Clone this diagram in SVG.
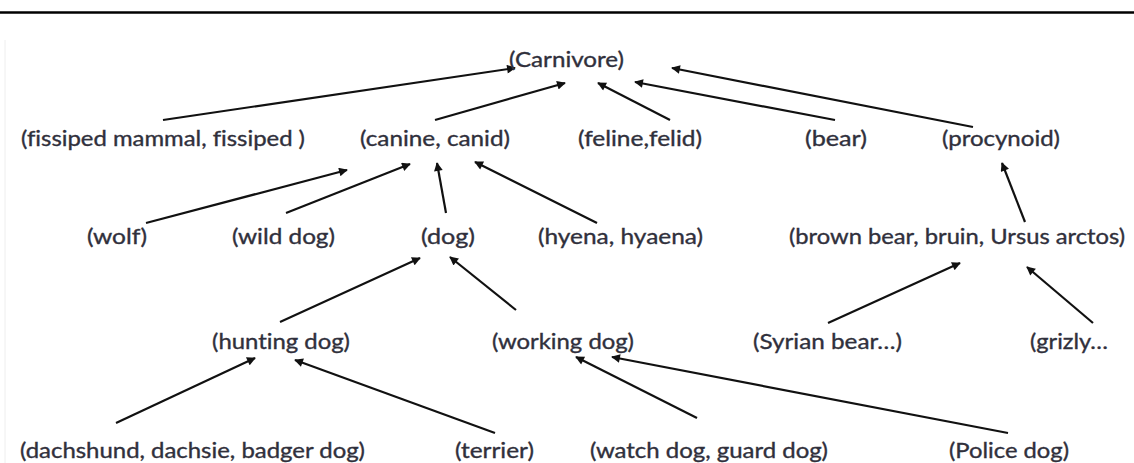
<svg xmlns="http://www.w3.org/2000/svg" width="1134" height="463" viewBox="0 0 1134 463">
  <style>
    .lbl { font-family: Lato, "Open Sans", "Liberation Sans", sans-serif; font-size: 21px; fill: #30303c; stroke: #30303c; stroke-width: 0.35; font-variant-ligatures: none; }
    .edge { stroke: #111; stroke-width: 2.2; fill: none; marker-end: url(#arrow); }
  </style>
  <defs>
    <marker id="arrow" viewBox="0 0 10 10" refX="9" refY="5" markerWidth="5" markerHeight="4" orient="auto" markerUnits="strokeWidth">
      <path d="M0,0 L10,5 L0,10 z" fill="#111"/>
    </marker>
  </defs>
  <rect width="1134" height="463" fill="#fff"/>
  <!-- page rule along the top -->
  <line x1="0" y1="12.5" x2="1134" y2="12.5" stroke="#000" stroke-width="2.5"/>
  <line x1="5" y1="40" x2="5" y2="463" stroke="#eee" stroke-width="1"/>

  <g id="connectors">
    <line class="edge" x1="163" y1="120" x2="515" y2="68"/>
    <line class="edge" x1="435" y1="120" x2="565" y2="83"/>
    <line class="edge" x1="670" y1="120" x2="598" y2="83"/>
    <line class="edge" x1="835" y1="120" x2="635" y2="82"/>
    <line class="edge" x1="973" y1="127" x2="672" y2="68"/>
    <line class="edge" x1="146" y1="223" x2="347" y2="170"/>
    <line class="edge" x1="286" y1="213" x2="410" y2="164"/>
    <line class="edge" x1="446" y1="213" x2="437" y2="163"/>
    <line class="edge" x1="597" y1="223" x2="475" y2="162"/>
    <line class="edge" x1="1025" y1="222" x2="1002" y2="163"/>
    <line class="edge" x1="280" y1="322" x2="420" y2="258"/>
    <line class="edge" x1="516" y1="310" x2="450" y2="257"/>
    <line class="edge" x1="828" y1="323" x2="960" y2="263"/>
    <line class="edge" x1="1093" y1="323" x2="1027" y2="267"/>
    <line class="edge" x1="116" y1="423" x2="255" y2="358"/>
    <line class="edge" x1="495" y1="433" x2="295" y2="360"/>
    <line class="edge" x1="697" y1="418" x2="576" y2="357"/>
    <line class="edge" x1="1008" y1="433" x2="612" y2="357"/>
  </g>

  <g id="carnivore"><text class="lbl" x="509" y="67" textLength="115" lengthAdjust="spacingAndGlyphs">(Carnivore)</text></g>

  <g id="fissiped"><text class="lbl" x="21" y="146" textLength="284" lengthAdjust="spacingAndGlyphs">(fissiped mammal, fissiped )</text></g>
  <g id="canine"><text class="lbl" x="360" y="146" textLength="150" lengthAdjust="spacingAndGlyphs">(canine, canid)</text></g>
  <g id="feline"><text class="lbl" x="578" y="146" textLength="124" lengthAdjust="spacingAndGlyphs">(feline,felid)</text></g>
  <g id="bear"><text class="lbl" x="805" y="146" textLength="62" lengthAdjust="spacingAndGlyphs">(bear)</text></g>
  <g id="procynoid"><text class="lbl" x="942" y="146" textLength="118" lengthAdjust="spacingAndGlyphs">(procynoid)</text></g>

  <g id="wolf"><text class="lbl" x="87" y="244" textLength="60" lengthAdjust="spacingAndGlyphs">(wolf)</text></g>
  <g id="wild-dog"><text class="lbl" x="232" y="244" textLength="103" lengthAdjust="spacingAndGlyphs">(wild dog)</text></g>
  <g id="dog"><text class="lbl" x="421" y="244" textLength="54" lengthAdjust="spacingAndGlyphs">(dog)</text></g>
  <g id="hyena"><text class="lbl" x="538" y="244" textLength="165" lengthAdjust="spacingAndGlyphs">(hyena, hyaena)</text></g>
  <g id="brown-bear"><text class="lbl" x="789" y="244" textLength="336" lengthAdjust="spacingAndGlyphs">(brown bear, bruin, Ursus arctos)</text></g>

  <g id="hunting-dog"><text class="lbl" x="212" y="349" textLength="138" lengthAdjust="spacingAndGlyphs">(hunting dog)</text></g>
  <g id="working-dog"><text class="lbl" x="492" y="349" textLength="142" lengthAdjust="spacingAndGlyphs">(working dog)</text></g>
  <g id="syrian-bear"><text class="lbl" x="753" y="349" textLength="149" lengthAdjust="spacingAndGlyphs">(Syrian bear…)</text></g>
  <g id="grizly"><text class="lbl" x="1030" y="349" textLength="78" lengthAdjust="spacingAndGlyphs">(grizly…</text></g>

  <g id="dachshund"><text class="lbl" x="20" y="458" textLength="345" lengthAdjust="spacingAndGlyphs">(dachshund, dachsie, badger dog)</text></g>
  <g id="terrier"><text class="lbl" x="455" y="458" textLength="79" lengthAdjust="spacingAndGlyphs">(terrier)</text></g>
  <g id="watch-dog"><text class="lbl" x="590" y="458" textLength="238" lengthAdjust="spacingAndGlyphs">(watch dog, guard dog)</text></g>
  <g id="police-dog"><text class="lbl" x="949" y="458" textLength="120" lengthAdjust="spacingAndGlyphs">(Police dog)</text></g>
</svg>
